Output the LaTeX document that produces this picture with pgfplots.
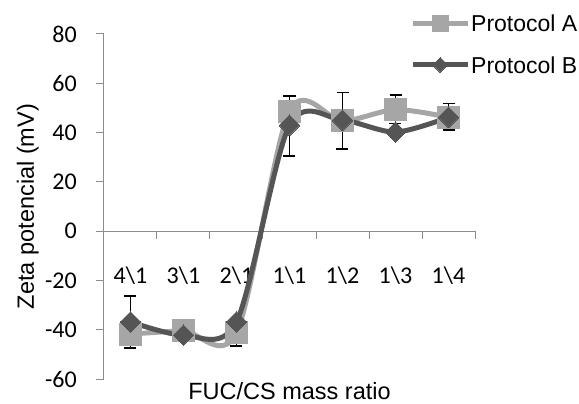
\documentclass[border=0pt]{standalone}
\usepackage{fontspec}
\setmainfont{Liberation Sans}
\newfontfamily\carlito{Carlito}
\usepackage{pgfplots}
\pgfplotsset{compat=1.18}
\definecolor{cA}{HTML}{A6A6A6}
\definecolor{cB}{HTML}{555555}
\definecolor{axgray}{HTML}{8C8C8C}
\begin{document}
\begin{tikzpicture}
\begin{axis}[
  scale only axis, width=371pt, height=345pt,
  xmin=-0.5, xmax=6.5, ymin=-60, ymax=80,
  axis x line=middle, axis y line=left,
  axis line style={-, draw=axgray, line width=1pt},
  every inner x axis line/.append style={-},
  hide obscured x ticks=false, hide obscured y ticks=false,
  xtick={0,...,6},
  xticklabels={4\textbackslash1,3\textbackslash1,2\textbackslash1,1\textbackslash1,1\textbackslash2,1\textbackslash3,1\textbackslash4},
  major x tick style={draw=none},
  minor xtick={-0.5,0.5,...,6.5},
  minor tick length=8pt,
  ytick={-60,-40,...,80},
  major tick length=8pt,
  tick align=outside,
  tick style={draw=axgray, line width=1pt},
  /pgf/number format/assume math mode=true,
  tick label style={font=\carlito\fontsize{24}{24}\selectfont, text=black},
  xticklabel style={anchor=base, inner sep=0pt, yshift=-44pt},
  yticklabel style={anchor=east, inner sep=0pt, xshift=-19pt},
  xlabel={FUC/CS mass ratio},
  ylabel={Zeta potencial (mV)},
  label style={font=\fontsize{23.5}{24}\selectfont},
  xlabel style={at={(axis description cs:0.5,-0.058)}, anchor=base},
  ylabel style={at={(axis description cs:-0.1887,0.5)}, anchor=base, rotate=0},
  legend style={draw=none, fill=none, inner sep=0pt, at={(axis description cs:0.8248,0.971)}, anchor=west,
    font=\fontsize{23}{24}\selectfont, row sep=25pt, cells={anchor=west},
    nodes={inner sep=0pt, text depth=0pt}},
  legend cell align=left,
  legend image code/.code={%
    \draw[#1, mark=none] (0pt,0pt) -- (55pt,0pt);
    \draw[#1, only marks, every mark/.append style={scale=0.72}] plot coordinates {(27.5pt,0pt)};
    \path (56pt,0pt);},
  clip=false,
]
\coordinate (bl) at (rel axis cs:0,0);
\coordinate (tr) at (rel axis cs:1,1);
% error bars first (behind markers)
\addplot[draw=none, mark=none, forget plot,
  error bars/.cd, y dir=both, y explicit,
  error bar style={line width=1.8pt, black},
  error mark options={rotate=90, line width=1.8pt, black, mark size=6pt}]
  coordinates {(0,-41.8) +- (0,0) (1,-40.5) +- (0,1) (2,-41.2) +- (0,5.3) (3,48.7) +- (0,0) (4,44.7) +- (0,0) (5,49.45) +- (0,5.75) (6,46.4) +- (0,5.4)};
\addplot[draw=none, mark=none, forget plot,
  error bars/.cd, y dir=both, y explicit,
  error bar style={line width=1.8pt, black},
  error mark options={rotate=90, line width=1.8pt, black, mark size=6pt}]
  coordinates {(0,-36.8) +- (0,10.5) (1,-42.2) +- (0,1) (2,-36.8) +- (0,0) (3,42.8) +- (0,12.2) (4,44.8) +- (0,11.5) (5,40) +- (0,0) (6,46) +- (0,0)};
\addplot[cA, line width=5pt, smooth, tension=0.5, mark=square*, mark size=11pt, mark options={line width=0pt, fill=cA, draw=cA}]
  coordinates {(0,-41.8) (1,-40.5) (2,-41.2) (3,48.7) (4,44.7) (5,49.3) (6,46.2)};
\addlegendentry{Protocol A}
\addplot[cB, line width=5pt, smooth, tension=0.5, mark=square*, mark size=7.3pt, mark options={rotate=45, line width=0pt, fill=cB, draw=cB}]
  coordinates {(0,-36.8) (1,-42.2) (2,-36.8) (3,43) (4,45) (5,40.2) (6,46.2)};
\addlegendentry{Protocol B}
\end{axis}
\pgfresetboundingbox
\path[use as bounding box] ([shift={(-104pt,-24pt)}]bl) rectangle ([shift={(104pt,34pt)}]tr);
\end{tikzpicture}
\end{document}
